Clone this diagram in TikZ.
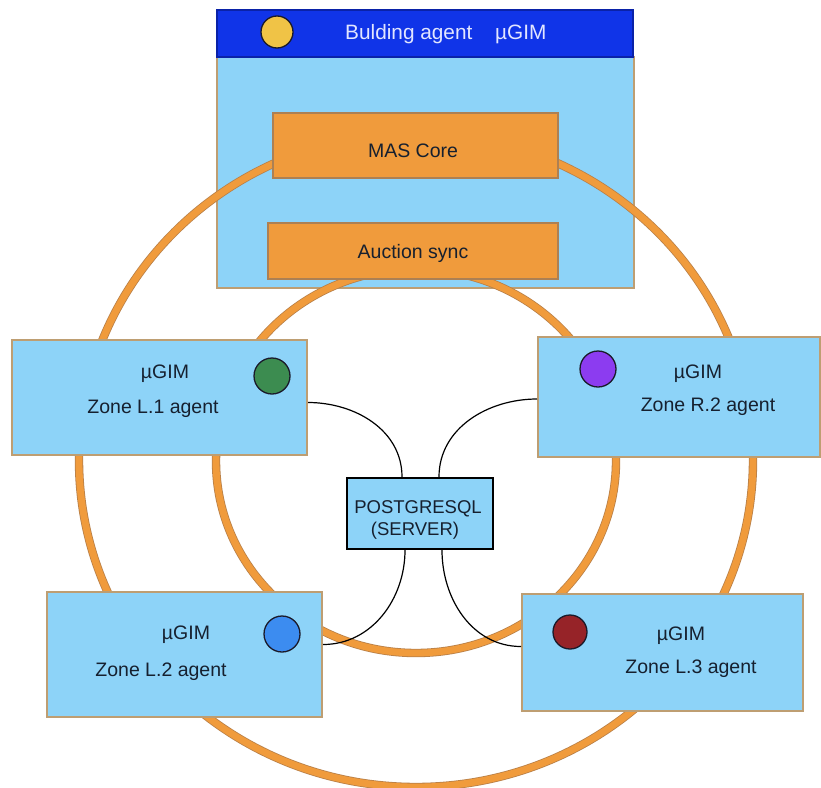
\documentclass[tikz,border=0pt]{standalone}
\usepackage{fontspec}
\setmainfont{Liberation Sans}
\usetikzlibrary{calc}
\definecolor{skyf}{HTML}{8DD3F8}
\definecolor{tanb}{HTML}{BE9E72}
\definecolor{orangef}{HTML}{F09B3C}
\definecolor{orangeb}{HTML}{B98048}
\definecolor{barf}{HTML}{1034E8}
\definecolor{barb}{HTML}{0A22A8}
\definecolor{txt}{HTML}{16202F}
\definecolor{titletxt}{HTML}{E2E6FF}
\definecolor{dotb}{HTML}{1A1A2A}
\definecolor{cyellow}{HTML}{F0C346}
\definecolor{cgreen}{HTML}{3C8C50}
\definecolor{cpurple}{HTML}{8C3CF0}
\definecolor{cblue}{HTML}{3C8CF0}
\definecolor{cred}{HTML}{962328}
\begin{document}
\begin{tikzpicture}[x=1pt,y=-1pt,
  zonebox/.style={rectangle, draw=tanb, fill=skyf, line width=2pt, inner sep=0pt},
  orbox/.style={rectangle, draw=orangeb!80!gray, fill=orangef, line width=1.6pt, inner sep=0pt},
  dot/.style={circle, draw=dotb, line width=1.3pt, inner sep=0pt},
  lbl/.style={text=txt, font=\fontsize{19.5}{22}\selectfont, inner sep=0pt, anchor=base},
  ttl/.style={text=titletxt, font=\fontsize{20.8}{24}\selectfont, inner sep=0pt, anchor=base west},
  ringunder/.style={draw=orangeb, line width=8.4pt},
  ring/.style={draw=orangef, line width=6.8pt},
  link/.style={draw=black, line width=1.2pt}]
\useasboundingbox (0,0) rectangle (821,787);
% building agent frame
\node[zonebox, minimum width=417pt, minimum height=231pt] (bld) at (425.5,172.5) {};
\node[rectangle, draw=barb, fill=barf, line width=1.5pt, inner sep=0pt,
      minimum width=416pt, minimum height=47pt] (bar) at (425,33.5) {};
\node[dot, fill=cyellow, minimum size=32pt] (ydot) at (277,32) {};
\node[ttl] (btitle) at (345,39) {Bulding agent};
\node[ttl] (bgim) at (495,39) {µGIM};
% orange rings
\draw[ringunder] (416,460) ellipse [x radius=337pt, y radius=327pt];
\draw[ring] (416,460) ellipse [x radius=337pt, y radius=327pt];
\draw[ringunder] (416,461) ellipse [x radius=200pt, y radius=192pt];
\draw[ring] (416,461) ellipse [x radius=200pt, y radius=192pt];
% core boxes
\node[orbox, minimum width=285pt, minimum height=65pt] (mas) at (415.5,145.5) {};
\node[lbl] (maslbl) at (413,157) {MAS Core};
\node[orbox, minimum width=290pt, minimum height=56pt] (auc) at (413,251) {};
\node[lbl] (auclbl) at (413,258) {Auction sync};
% zone agents
\node[zonebox, minimum width=295pt, minimum height=115pt] (l1) at (159.5,397.5) {};
\node[dot, fill=cgreen, minimum size=36pt] (gdot) at (272,376) {};
\node[lbl] (l1a) at (165,378) {µGIM};
\node[lbl] (l1b) at (153,413) {Zone L.1 agent};
\node[zonebox, minimum width=282pt, minimum height=120pt] (r2) at (679,397) {};
\node[dot, fill=cpurple, minimum size=36pt] (pdot) at (598,369) {};
\node[lbl] (r2a) at (698,378) {µGIM};
\node[lbl] (r2b) at (708,411) {Zone R.2 agent};
\node[zonebox, minimum width=275pt, minimum height=125pt] (l2) at (184.5,654.5) {};
\node[dot, fill=cblue, minimum size=36pt] (bdot) at (282,634) {};
\node[lbl] (l2a) at (186,639) {µGIM};
\node[lbl] (l2b) at (161,676) {Zone L.2 agent};
\node[zonebox, minimum width=281pt, minimum height=117pt] (l3) at (662.5,652.5) {};
\node[dot, fill=cred, minimum size=34pt] (rdot) at (570,632) {};
\node[lbl] (l3a) at (681,640) {µGIM};
\node[lbl] (l3b) at (691,673) {Zone L.3 agent};
% database
\node[rectangle, draw=black, fill=skyf, line width=2.2pt, inner sep=0pt,
      minimum width=146pt, minimum height=71pt] (pg) at (420,513.5) {};
\node[lbl, font=\fontsize{18.5}{22}\selectfont] (pga) at (418,513) {POSTGRESQL};
\node[lbl, font=\fontsize{18.5}{22}\selectfont] (pgb) at (415,535) {(SERVER)};
% links
\coordinate (pgnw) at ([xshift=-18pt]pg.north);
\coordinate (pgne) at ([xshift=19pt]pg.north);
\coordinate (pgsw) at ([xshift=-15pt]pg.south);
\coordinate (pgse) at ([xshift=22pt]pg.south);
\draw[link] ([yshift=-5pt]l1.east) to[out=0,in=90] (pgnw);
\draw[link] ([yshift=-2pt]r2.west) to[out=180,in=90] (pgne);
\draw[link] (pgsw) to[out=-90,in=0] ([yshift=10pt]l2.east);
\draw[link] (pgse) to[out=-90,in=180] ([yshift=6pt]l3.west);
\end{tikzpicture}
\end{document}
